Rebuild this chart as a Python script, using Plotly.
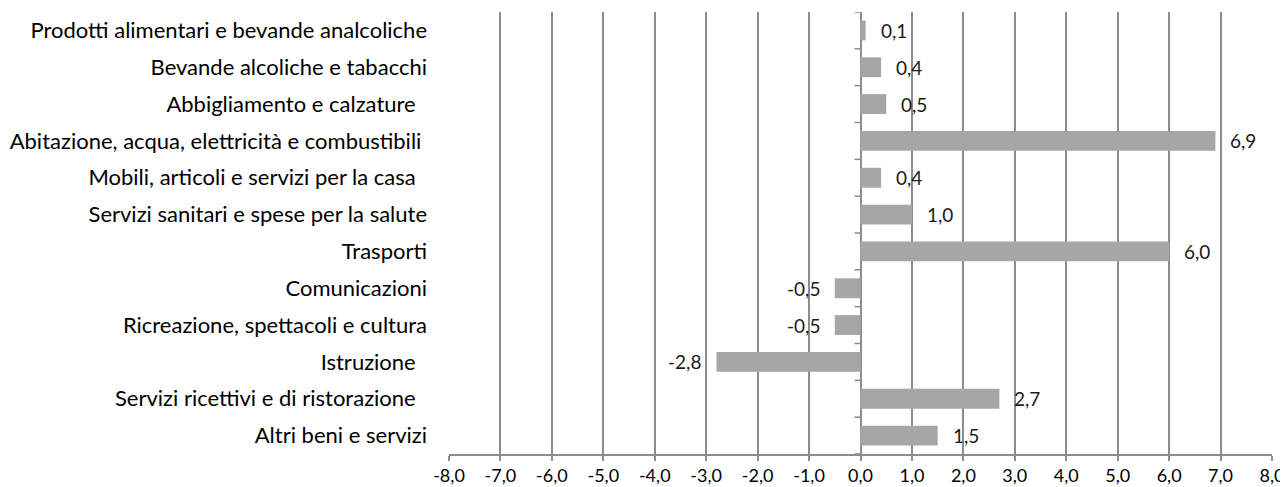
import plotly.graph_objects as go

categories = [
    "Prodotti alimentari e bevande analcoliche",
    "Bevande alcoliche e tabacchi",
    "Abbigliamento e calzature\u00a0\u00a0",
    "Abitazione, acqua, elettricità e combustibili\u00a0",
    "Mobili, articoli e servizi per la casa\u00a0\u00a0",
    "Servizi sanitari e spese per la salute",
    "Trasporti",
    "Comunicazioni",
    "Ricreazione, spettacoli e cultura",
    "Istruzione\u00a0\u00a0",
    "Servizi ricettivi e di ristorazione\u00a0\u00a0",
    "Altri beni e servizi",
]
values = [0.1, 0.4, 0.5, 6.9, 0.4, 1.0, 6.0, -0.5, -0.5, -2.8, 2.7, 1.5]
tick_values = list(range(-8, 9))
tick_labels = [f"{t:.1f}".replace(".", ",") for t in tick_values]

FONT = "Lato"
fig = go.Figure()
fig.add_trace(go.Bar(
    x=values, y=list(range(len(categories))), orientation="h",
    marker=dict(color="#a6a6a6", line=dict(width=0)),
    hoverinfo="skip",
))

for i, v in enumerate(values):
    fig.add_annotation(
        x=v, y=i, xref="x", yref="y",
        text=f"{v:.1f}".replace(".", ","),
        showarrow=False,
        xanchor="left" if v >= 0 else "right",
        xshift=13 if v >= 0 else -13,
        font=dict(family=FONT, size=19, color="#1a1a1a"),
    )

# category tick marks along the zero line
for k in range(len(categories) + 1):
    fig.add_shape(
        type="line", xref="x", yref="y",
        xsizemode="pixel", xanchor=0, x0=-6, x1=0,
        y0=k - 0.5, y1=k - 0.5,
        line=dict(color="#8c8c8c", width=1.5),
    )

# the page body adds an 8px margin, so the figure is 8px smaller on each side
fig.update_layout(
    width=1280, height=479,
    margin=dict(l=441, r=16, t=4, b=33),
    paper_bgcolor="white", plot_bgcolor="white",
    showlegend=False,
    bargap=0.46,
    font=dict(family=FONT, size=16, color="#000000"),
    xaxis=dict(
        range=[-8, 8], tickvals=tick_values, ticktext=tick_labels,
        showgrid=True, gridcolor="#8c8c8c", gridwidth=1.5,
        zeroline=True, zerolinecolor="#8c8c8c", zerolinewidth=1.5,
        showline=True, linecolor="#8c8c8c", linewidth=1.5,
        ticks="outside", ticklen=5, tickcolor="#8c8c8c", tickwidth=1.5,
        tickfont=dict(family=FONT, size=18, color="#000000"),
        automargin=False,
        fixedrange=True,
    ),
    yaxis=dict(
        range=[len(categories) - 0.5, -0.5],
        tickvals=list(range(len(categories))), ticktext=categories,
        showgrid=False, zeroline=False, showline=False,
        ticks="", ticklabelstandoff=21,
        tickfont=dict(family=FONT, size=22, color="#000000"),
        automargin=False,
        fixedrange=True,
    ),
)

fig.write_html("out.html")
